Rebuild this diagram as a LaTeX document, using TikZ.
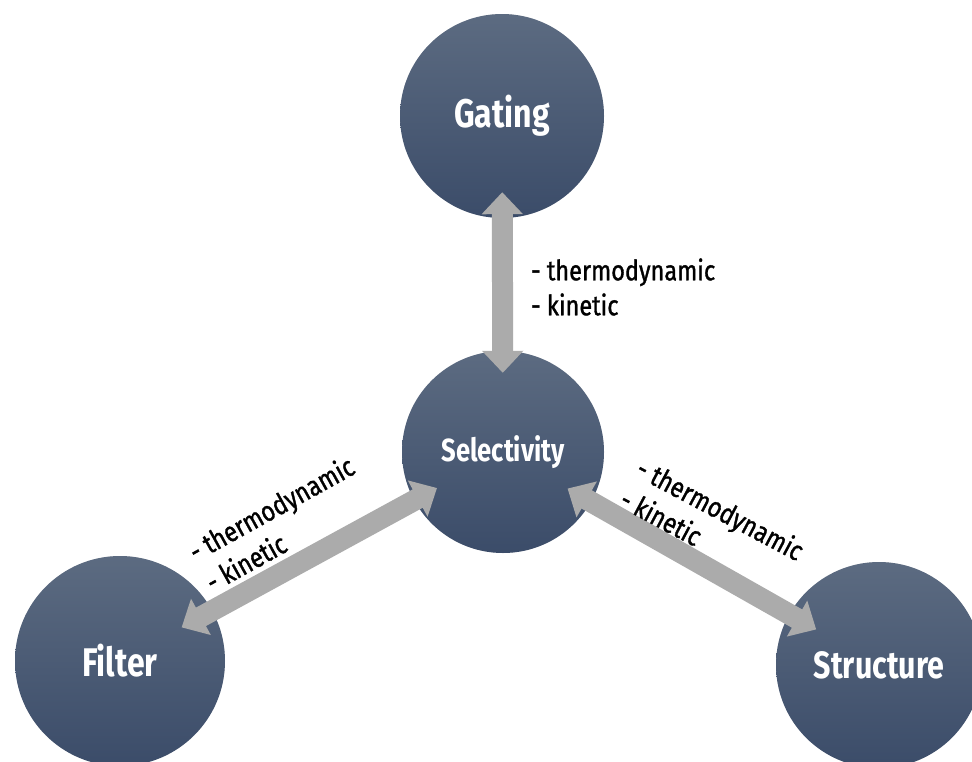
\documentclass[tikz,border=0pt]{standalone}
\usepackage{fontspec}
\setmainfont{Fira Sans}[FakeStretch=0.8]
\newfontfamily\lblfont{Fira Sans}[FakeStretch=0.84, FakeBold=1.2]
\usetikzlibrary{arrows.meta,shadows}
\definecolor{ctop}{HTML}{5C6B81}
\definecolor{cbot}{HTML}{3B4C69}
\definecolor{arr}{HTML}{ABABAB}
\begin{document}
\begin{tikzpicture}[x=1pt,y=-1pt,
  bubble/.style={circle, minimum size=#1, inner sep=0pt, top color=ctop, bottom color=cbot,
    text=white, general shadow={fill=black, opacity=0.12, scale=1.03}},
  bigname/.style={font=\fontsize{40}{42}\selectfont\bfseries},
  midname/.style={font=\fontsize{32}{34}\selectfont\bfseries},
  bigarrow/.style={line width=21pt, draw=arr,
    {Triangle[width=40pt,length=22pt]}-{Triangle[width=40pt,length=22pt]}},
  lbl/.style={align=left, inner sep=0pt, anchor=west, font=\lblfont\fontsize{28}{35}\selectfont}
]
\useasboundingbox (0,0) rectangle (972,761);
\node[bubble=204pt, bigname] (gating) at (502,116) {Gating};
\node[bubble=202pt, midname] (sel) at (503,452) {Selectivity};
\node[bubble=210pt, bigname] (filter) at (120,661) {Filter};
\node[bubble=206pt, font=\fontsize{38}{40}\selectfont\bfseries] (struct) at (879,665) {Structure};

\draw[bigarrow, shorten <=-26pt, shorten >=-22pt] (gating) -- (sel);
\draw[bigarrow, shorten <=-35pt, shorten >=-26pt] (filter) -- (sel);
\draw[bigarrow, shorten <=-27pt, shorten >=-31pt] (sel) -- (struct);

\node[lbl] (l1) at (531,287) {- thermodynamic\\- kinetic};
\node[lbl, rotate=29] (l2) at (199,568) {- thermodynamic\\- kinetic};
\node[lbl, rotate=-28] (l3) at (631,481) {- thermodynamic\\- kinetic};
\end{tikzpicture}
\end{document}
